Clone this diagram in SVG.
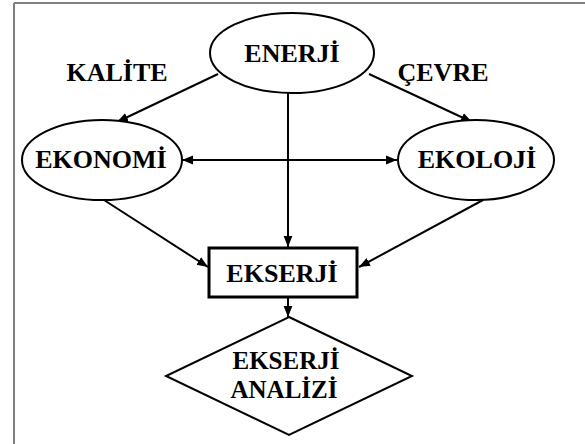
<svg xmlns="http://www.w3.org/2000/svg" width="585" height="444" viewBox="0 0 585 444">
<style>
.shape{fill:#fff;stroke:#000;stroke-width:2}
.lbl{font-family:"Liberation Serif","Times New Roman",serif;font-weight:bold;font-size:26px;fill:#000;text-anchor:middle}
.sm{font-size:25px}
.conn{stroke:#000;stroke-width:2;fill:none}
</style>
<defs>
<marker id="ah" viewBox="0 0 10 10" refX="10" refY="5" markerWidth="5.5" markerHeight="5.5" orient="auto-start-reverse" markerUnits="strokeWidth">
<path d="M0,1 L10,5 L0,9 z" fill="#000"/>
</marker>
</defs>
<rect x="0" y="0" width="585" height="444" fill="#fff"/>
<g id="frame" stroke="#808080" stroke-width="2" fill="none">
<line x1="14" y1="3" x2="585" y2="3"/>
<line x1="14" y1="3" x2="14" y2="444"/>
</g>
<g id="connectors">
<line class="conn" x1="218" y1="74" x2="117" y2="122" marker-end="url(#ah)"/>
<line class="conn" x1="369" y1="74" x2="472" y2="122" marker-end="url(#ah)"/>
<line class="conn" x1="288" y1="93" x2="288" y2="247" marker-end="url(#ah)"/>
<line class="conn" x1="182" y1="160" x2="397" y2="160" marker-start="url(#ah)" marker-end="url(#ah)"/>
<line class="conn" x1="104" y1="200" x2="208" y2="267" marker-end="url(#ah)"/>
<line class="conn" x1="483" y1="200" x2="359" y2="267" marker-end="url(#ah)"/>
<line class="conn" x1="288" y1="298" x2="288" y2="317" marker-end="url(#ah)"/>
</g>
<g id="enerji">
<ellipse class="shape" cx="292" cy="53" rx="82" ry="40"/>
<text class="lbl" x="292" y="62">ENERJİ</text>
</g>
<g id="kalite">
<text class="lbl" x="117" y="81">KALİTE</text>
</g>
<g id="cevre">
<text class="lbl" x="443" y="81">ÇEVRE</text>
</g>
<g id="ekonomi">
<ellipse class="shape" cx="102" cy="160" rx="80" ry="40"/>
<text class="lbl" x="101" y="168">EKONOMİ</text>
</g>
<g id="ekoloji">
<ellipse class="shape" cx="476" cy="160" rx="78" ry="40"/>
<text class="lbl" x="477" y="168">EKOLOJİ</text>
</g>
<g id="ekserji">
<rect x="209" y="248" width="148" height="49" fill="#fff" stroke="#000" stroke-width="3"/>
<text class="lbl" x="282" y="282">EKSERJİ</text>
</g>
<g id="ekserji-analizi">
<polygon class="shape" points="289,317 412,376 289,435 166,376"/>
<text class="lbl sm" x="286" y="369">EKSERJİ</text>
<text class="lbl sm" x="284" y="398">ANALİZİ</text>
</g>
</svg>
